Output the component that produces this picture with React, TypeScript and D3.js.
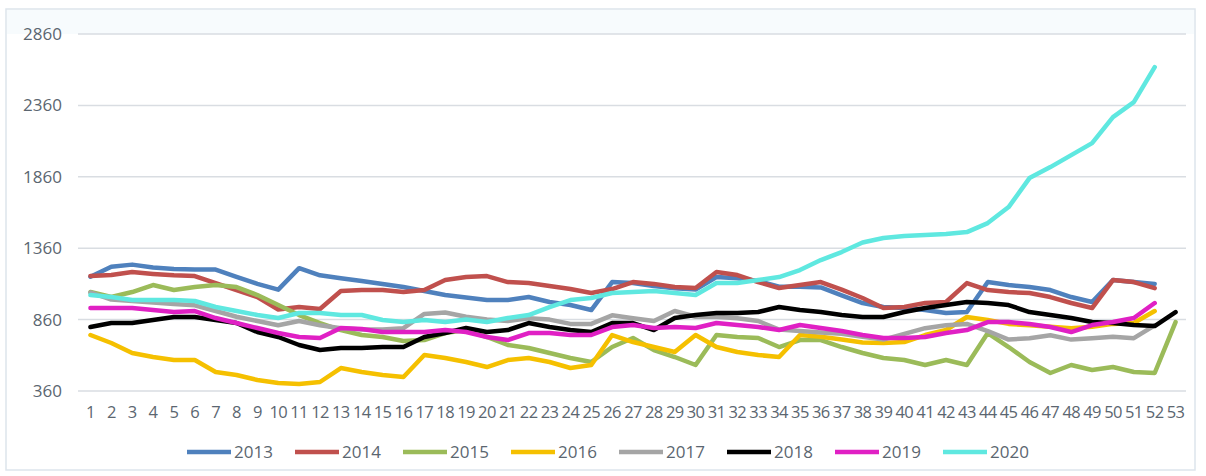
import React from "react"
import * as d3 from "d3"

// weekly values per year
const weeks = d3.range(1, 54)
const yTicks = [360, 860, 1360, 1860, 2360, 2860]
const years = ["2013", "2014", "2015", "2016", "2017", "2018", "2019", "2020"]
const colors = ["#4f81bd", "#c0504d", "#9bbb59", "#f5c000", "#a5a5a5", "#000000", "#e020c4", "#5fe8e0"]

const s2013 = [1160, 1230, 1245, 1225, 1215, 1210, 1210, 1160, 1110, 1070, 1220, 1170, 1150, 1130, 1110, 1088, 1060, 1032, 1015, 997, 997, 1018, 983, 962, 927, 1123, 1116, 1095, 1080, 1070, 1158, 1150, 1130, 1090, 1090, 1085, 1030, 976, 948, 941, 927, 906, 913, 1123, 1102, 1088, 1067, 1018, 983, 1137, 1123, 1110]
const s2014 = [1165, 1172, 1193, 1180, 1170, 1165, 1116, 1067, 1018, 930, 948, 934, 1060, 1067, 1067, 1053, 1067, 1137, 1158, 1165, 1123, 1116, 1095, 1074, 1046, 1074, 1123, 1110, 1088, 1081, 1193, 1172, 1123, 1081, 1102, 1123, 1070, 1011, 941, 948, 976, 983, 1116, 1067, 1053, 1046, 1018, 976, 941, 1137, 1123, 1080]
const s2015 = [1053, 1018, 1053, 1102, 1067, 1088, 1102, 1088, 1032, 962, 892, 836, 787, 752, 738, 710, 717, 766, 787, 738, 682, 661, 626, 591, 563, 668, 731, 647, 598, 542, 752, 738, 731, 668, 717, 717, 668, 626, 591, 577, 542, 577, 542, 766, 668, 563, 486, 542, 507, 528, 493, 486, 843]
const s2016 = [752, 696, 626, 598, 577, 577, 493, 472, 437, 416, 409, 423, 521, 493, 472, 458, 612, 591, 563, 528, 577, 591, 563, 521, 542, 752, 703, 668, 633, 752, 668, 633, 612, 598, 752, 740, 720, 700, 696, 703, 752, 787, 878, 857, 830, 820, 810, 800, 810, 830, 836, 920]
const s2017 = [1050, 1000, 990, 980, 970, 960, 920, 880, 850, 820, 850, 820, 800, 790, 790, 800, 900, 910, 880, 860, 850, 870, 860, 830, 830, 890, 870, 850, 920, 880, 880, 870, 850, 790, 780, 770, 760, 740, 720, 760, 800, 820, 830, 780, 720, 730, 750, 720, 730, 740, 730, 820]
const s2018 = [808, 836, 836, 857, 878, 878, 857, 836, 773, 738, 682, 647, 661, 661, 668, 668, 738, 766, 801, 773, 787, 836, 808, 787, 773, 836, 836, 787, 871, 892, 906, 906, 913, 948, 927, 913, 892, 878, 878, 913, 941, 962, 983, 976, 962, 913, 892, 871, 843, 836, 822, 815, 913]
const s2019 = [941, 941, 941, 927, 913, 920, 871, 836, 801, 766, 738, 731, 801, 794, 773, 773, 773, 787, 773, 738, 717, 766, 766, 752, 752, 808, 822, 801, 808, 801, 836, 822, 808, 787, 822, 801, 780, 752, 731, 731, 738, 766, 787, 843, 843, 829, 808, 773, 822, 843, 871, 976]
const s2020 = [1032, 1018, 997, 997, 997, 990, 948, 920, 892, 871, 906, 906, 892, 892, 857, 843, 857, 843, 860, 843, 871, 892, 948, 997, 1011, 1046, 1053, 1060, 1046, 1032, 1116, 1116, 1137, 1158, 1207, 1277, 1333, 1400, 1431, 1445, 1452, 1459, 1473, 1536, 1648, 1851, 1928, 2012, 2096, 2278, 2383, 2628]

const series = [s2013, s2014, s2015, s2016, s2017, s2018, s2019, s2020]

const W = 1206, H = 476
const font = "'Open Sans', sans-serif"

export default function App() {
  const x = d3.scaleBand<number>().domain(weeks).range([80, 1186]).padding(0)
  const cx = (w: number) => (x(w) as number) + x.bandwidth() / 2
  const y = d3.scaleLinear().domain([360, 2860]).range([391, 34])

  const line = d3.line<number>()
    .x((d, i) => cx(weeks[i]))
    .y(d => y(d))

  // legend positions
  const legX = d3.scaleLinear().domain([0, 1]).range([187, 295])

  return (
    <svg width={W} height={H} style={{ position: "absolute", left: 0, top: 0, background: "#fff" }}>
      <rect x={6} y={9} width={1189} height={461} fill="#fff" stroke="#dde5ec" strokeWidth={1.5} />
      <rect x={7} y={10} width={1187} height={24} fill="#f7fbfd" />

      {/* grid + y labels */}
      {yTicks.map(t => (
        <g key={t}>
          <line x1={78} x2={1186} y1={y(t)} y2={y(t)} stroke="#d9dde2" strokeWidth={1.5} />
          <text x={62} y={y(t)} dy="0.35em" textAnchor="end" fontFamily={font} fontSize={17} fill="#5b6670">{t}</text>
        </g>
      ))}

      {/* x labels */}
      {weeks.map(w => (
        <text key={w} x={cx(w)} y={412} dy="0.35em" textAnchor="middle" fontFamily={font} fontSize={16.5} letterSpacing={-0.6} fill="#5b6670">{w}</text>
      ))}

      {/* series lines */}
      {series.map((s, i) => (
        <path key={years[i]} d={line(s) || ""} fill="none" stroke={colors[i]} strokeWidth={4.5} strokeLinejoin="round" strokeLinecap="round" />
      ))}

      {/* legend */}
      {years.map((yr, i) => (
        <g key={yr}>
          <line x1={legX(i)} x2={legX(i) + 44} y1={452} y2={452} stroke={colors[i]} strokeWidth={4.5} />
          <text x={legX(i) + 47} y={452} dy="0.35em" fontFamily={font} fontSize={17} fill="#5b6670">{yr}</text>
        </g>
      ))}
    </svg>
  )
}
